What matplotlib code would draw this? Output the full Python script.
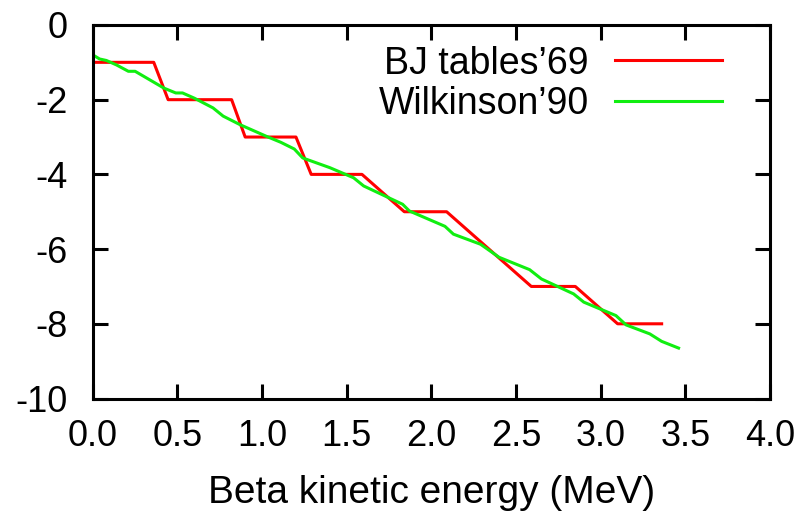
import numpy as np
import matplotlib
matplotlib.use('Agg')
import matplotlib.pyplot as plt

plt.rcParams['font.family'] = ['Liberation Sans', 'DejaVu Sans']

# log10 ft-type values vs beta kinetic energy
# BJ tables (1969): step-like curve
bj_E = [0.0, 0.36, 0.445, 0.82, 0.90, 1.20, 1.29, 1.59, 1.84, 2.09, 2.59, 2.85, 3.10, 3.36]
bj_val = [-1, -1, -2, -2, -3, -3, -4, -4, -5, -5, -7, -7, -8, -8]

# Wilkinson (1990)
wk_E = [0.00, 0.04, 0.08, 0.14, 0.21, 0.25, 0.42, 0.49, 0.53, 0.60, 0.71, 0.77,
        0.87, 1.03, 1.11, 1.19, 1.24, 1.40, 1.54, 1.60, 1.83, 1.87, 2.08, 2.13,
        2.29, 2.40, 2.58, 2.65, 2.84, 2.90, 3.09, 3.15, 3.29, 3.36, 3.46]
wk_val = [-0.80, -0.91, -0.95, -1.07, -1.24, -1.24, -1.69, -1.82, -1.82, -1.96,
          -2.22, -2.44, -2.67, -2.99, -3.14, -3.32, -3.56, -3.82, -4.09, -4.31,
          -4.80, -4.98, -5.39, -5.60, -5.87, -6.22, -6.55, -6.80, -7.20, -7.42,
          -7.78, -8.03, -8.27, -8.47, -8.65]

xticks = [0.0, 0.5, 1.0, 1.5, 2.0, 2.5, 3.0, 3.5, 4.0]
yticks = [0, -2, -4, -6, -8, -10]

fig = plt.figure(figsize=(8, 5.16), dpi=100)
ax = fig.add_axes([0.116, 0.2277, 0.8465, 0.7239])

ax.plot(bj_E, bj_val, color='#ff0000', lw=2.2, label="BJ tables\u201969")
ax.plot(wk_E, wk_val, color='#11ee11', lw=2.2, label="Wilkinson\u201990")

ax.set_xlim(0, 4)
ax.set_ylim(-10, 0)
ax.set_xticks(xticks)
ax.set_xticklabels(['%.1f' % t for t in xticks])
ax.set_yticks(yticks)
ax.set_yticklabels([str(t) for t in yticks])

for s in ax.spines.values():
    s.set_linewidth(2.2)
ax.tick_params(direction='in', length=11, width=2.2, top=True, right=True,
               labelsize=26)
ax.tick_params(axis='x', pad=15)
ax.tick_params(axis='y', pad=18)

ax.set_xlabel('Beta kinetic energy (MeV)', fontsize=28, labelpad=15)

leg = ax.legend(loc='upper right', bbox_to_anchor=(0.929, 0.945), frameon=False,
                markerfirst=False, fontsize=27, handlelength=2.85,
                handletextpad=0.7, borderpad=0, borderaxespad=0,
                labelspacing=0.12)

fig.savefig('out.png', dpi=100)
